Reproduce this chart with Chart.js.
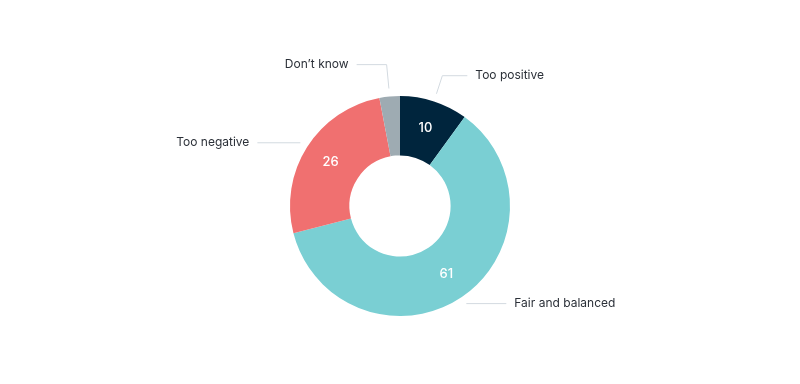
<!DOCTYPE html>
<html>
<head>
<meta charset="utf-8">
<script src="https://cdn.jsdelivr.net/npm/chart.js@4"></script>
<style>
  html, body { margin: 0; padding: 0; background: #ffffff; }
  #wrap { width: 800px; height: 384px; }
</style>
</head>
<body>
<div id="wrap"><canvas id="c" width="800" height="384"></canvas></div>
<script>
const categories = ["Too positive", "Fair and balanced", "Too negative", "Don\u2019t know"];
const values = [10, 61, 26, 3];
const showValue = [true, true, true, false];
const colors = ["#00253D", "#7ACFD3", "#F07070", "#9EABB2"];

// leader-line layout per label: radial extension beyond start, horizontal length
const leaderRadial = [19, 0, 0, 24];
const leaderHoriz = [25, 40, 43, 30];

const labelPlugin = {
  id: 'sliceLabels',
  afterDatasetsDraw(chart) {
    const ctx = chart.ctx;
    const meta = chart.getDatasetMeta(0);
    meta.data.forEach((arc, i) => {
      const p = arc.getProps(['x', 'y', 'startAngle', 'endAngle', 'outerRadius', 'innerRadius'], true);
      const mid = (p.startAngle + p.endAngle) / 2;
      const cos = Math.cos(mid), sin = Math.sin(mid);
      if (showValue[i]) {
        const r = (p.innerRadius + p.outerRadius) / 2 + 2;
        ctx.save();
        ctx.fillStyle = '#ffffff';
        ctx.font = '500 13px Inter, "Noto Sans", sans-serif';
        ctx.textAlign = 'center';
        ctx.textBaseline = 'middle';
        ctx.fillText(String(values[i]), p.x + cos * r, p.y + sin * r);
        ctx.restore();
      }
      const r0 = p.outerRadius + 8;
      const r1 = r0 + leaderRadial[i];
      const x0 = p.x + cos * r0, y0 = p.y + sin * r0;
      const x1 = p.x + cos * r1, y1 = p.y + sin * r1;
      const right = cos >= 0;
      const x2 = x1 + (right ? leaderHoriz[i] : -leaderHoriz[i]);
      ctx.save();
      ctx.strokeStyle = '#D3DAE0';
      ctx.lineWidth = 1;
      ctx.beginPath();
      ctx.moveTo(x0, y0);
      ctx.lineTo(x1, y1);
      ctx.lineTo(x2, y1);
      ctx.stroke();
      ctx.fillStyle = '#2B3038';
      ctx.font = '12px Inter, "Noto Sans", sans-serif';
      ctx.textBaseline = 'middle';
      ctx.textAlign = right ? 'left' : 'right';
      ctx.fillText(categories[i], x2 + (right ? 8 : -8), y1);
      ctx.restore();
    });
  }
};

new Chart(document.getElementById('c'), {
  type: 'doughnut',
  data: {
    labels: categories,
    datasets: [{
      data: values,
      backgroundColor: colors,
      borderWidth: 0,
      hoverOffset: 0
    }]
  },
  options: {
    responsive: false,
    animation: false,
    cutout: '46%',
    layout: { padding: { top: 96, bottom: 68, left: 0, right: 0 } },
    plugins: {
      legend: { display: false },
      tooltip: { enabled: false }
    }
  },
  plugins: [labelPlugin]
});
</script>
</body>
</html>
